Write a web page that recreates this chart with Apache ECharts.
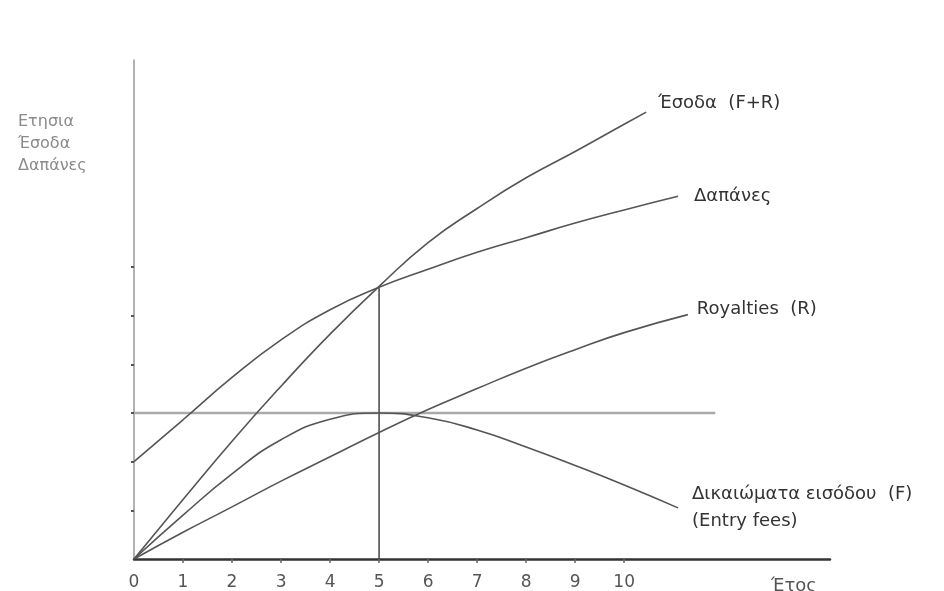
<!DOCTYPE html>
<html>
<head>
<meta charset="utf-8">
<script src="https://cdn.jsdelivr.net/npm/echarts@6/dist/echarts.min.js"></script>
<style>html,body{margin:0;padding:0;background:#fff}#c{width:944px;height:591px}</style>
</head>
<body>
<div id="c"></div>
<script>
// ---- data (x in years, y in arbitrary units) ----
const revenueX = [0, 1, 2, 3, 4, 5, 6, 7, 8, 9, 10, 10.45];
const revenueY = [0, 1.22, 2.42, 3.55, 4.62, 5.6, 6.5, 7.2, 7.83, 8.37, 8.93, 9.18];
const costX = [0, 1, 2, 3, 4, 5, 6, 7, 8, 9, 10, 11.1];
const costY = [2.0, 2.86, 3.73, 4.5, 5.12, 5.58, 5.95, 6.3, 6.6, 6.9, 7.17, 7.45];
const royaltyX = [0, 1, 2, 3, 4, 5, 6, 7, 8, 9, 10, 11.3];
const royaltyY = [0, 0.55, 1.07, 1.6, 2.1, 2.6, 3.07, 3.5, 3.92, 4.3, 4.65, 5.02];
const feeX = [0, 1, 2, 3, 4, 5, 6, 7, 8, 9, 10, 11.1];
const feeY = [0, 0.9, 1.75, 2.45, 2.87, 3.0, 2.9, 2.65, 2.3, 1.92, 1.52, 1.05];
const levelX = [0, 11.86];
const levelY = [3, 3];
const breakEvenX = [5, 5];
const breakEvenY = [0, 5.58];
const xTickLabels = [0, 1, 2, 3, 4, 5, 6, 7, 8, 9, 10];
const yTicks = [1, 2, 3, 4, 5, 6];
const names = {
  revenue: 'Έσοδα  (F+R)',
  cost: 'Δαπάνες',
  royalty: 'Royalties  (R)',
  fee: 'Δικαιώματα εισόδου  (F)\n(Entry fees)'
};
const yTitle = 'Ετησια\nΈσοδα\nΔαπάνες';
const xTitle = 'Έτος';

const zip = (xs, ys) => xs.map((x, i) => [x, ys[i]]);
const FONT = 'DejaVu Sans';
const lineCol = '#555';

function curve(name, xs, ys, endCfg) {
  return {
    type: 'line', name, data: zip(xs, ys), smooth: 0.5, symbol: 'none',
    lineStyle: { color: lineCol, width: 1.6 },
    endLabel: Object.assign({
      show: true, formatter: name, color: '#333', fontFamily: FONT, fontSize: 18, lineHeight: 27, align: 'left'
    }, endCfg),
    z: 3
  };
}

const chart = echarts.init(document.getElementById('c'), null, { renderer: 'canvas' });
chart.setOption({
  backgroundColor: '#fff',
  animation: false,
  title: [
    { text: yTitle, left: 13, top: 106, textStyle: { fontFamily: FONT, fontSize: 16, fontWeight: 'normal', color: '#8a8a8a', lineHeight: 22 } },
    { text: xTitle, left: 766, top: 572, textStyle: { fontFamily: FONT, fontSize: 18, fontWeight: 'normal', color: '#555' } }
  ],
  grid: { left: 134, top: 60, width: 696, height: 499, containLabel: false },
  xAxis: {
    type: 'value', min: 0, max: 14.2, splitLine: { show: false },
    axisLine: { show: true, lineStyle: { color: '#333', width: 2.5 } },
    axisTick: { show: true, customValues: xTickLabels.slice(1), length: 4, lineStyle: { color: '#666', width: 1.5 } },
    axisLabel: { customValues: xTickLabels, color: '#555', fontFamily: FONT, fontSize: 17, margin: 15,
      formatter: v => String(v) }
  },
  yAxis: {
    type: 'value', min: 0, max: 10.25, splitLine: { show: false },
    axisLine: { show: true, lineStyle: { color: '#999', width: 1.5 } },
    axisTick: { show: true, customValues: yTicks, length: 3, lineStyle: { color: '#555', width: 2 } },
    axisLabel: { show: false }
  },
  series: [
    { type: 'line', name: 'level', data: zip(levelX, levelY), symbol: 'none', silent: true,
      lineStyle: { color: '#aaa', width: 2.5 }, z: 2 },
    { type: 'line', name: 'breakeven', data: zip(breakEvenX, breakEvenY), symbol: 'none', silent: true,
      lineStyle: { color: '#444', width: 1.5 }, z: 2 },
    curve(names.revenue, revenueX, revenueY, { distance: 12, offset: [0, -9] }),
    curve(names.cost, costX, costY, { distance: 16, offset: [0, 0] }),
    curve(names.royalty, royaltyX, royaltyY, { distance: 9, offset: [0, -5] }),
    curve(names.fee, feeX, feeY, { distance: 14, offset: [0, 0] })
  ]
});
</script>
</body>
</html>
